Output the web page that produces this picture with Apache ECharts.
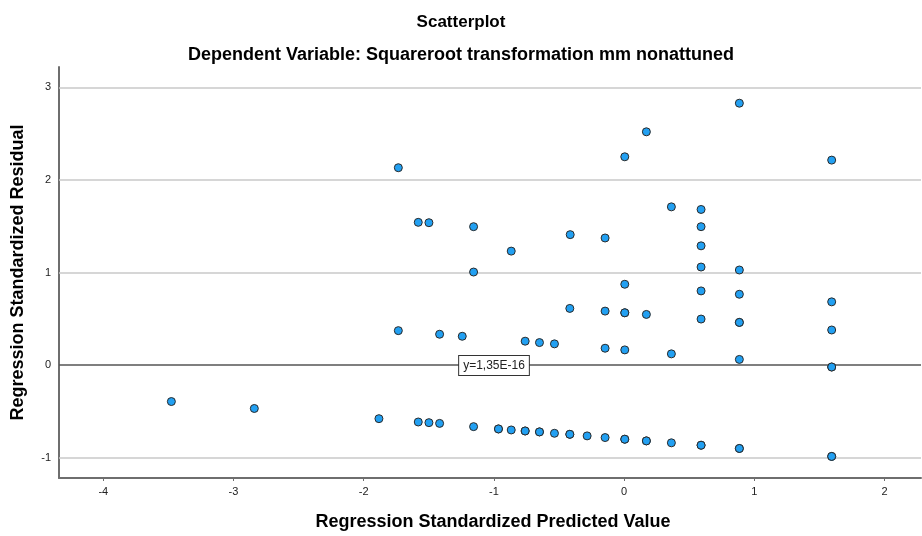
<!DOCTYPE html>
<html>
<head>
<meta charset="utf-8">
<script src="https://cdn.jsdelivr.net/npm/echarts@6/dist/echarts.min.js"></script>
<style>html,body{margin:0;padding:0;background:#fff}#c{width:922px;height:536px}</style>
</head>
<body>
<div id="c"></div>
<script>
// Data
const xValues = [
  -1.734,-1.581,-1.499,-1.156,-0.867,-0.414,-0.146,-1.156,0.005,0.171,
  0.885,1.594,0.363,0.591,0.591,0.591,0.591,0.885,0.005,0.591,
  0.885,1.594,0.005,0.171,0.591,0.885,1.594,0.005,0.363,0.885,
  1.594,-1.734,-1.417,-1.243,-0.760,-0.650,-0.535,-0.417,-0.146,-0.146,
  -3.477,-2.840,-1.883,-1.581,-1.499,-1.417,-1.156,-0.965,-0.867,-0.760,
  -0.650,-0.535,-0.417,-0.284,-0.146,0.005,0.171,0.363,0.591,0.885,
  1.594,
  -0.965,-0.760,-0.650,-0.417,0.171,0.005,0.885,1.594,1.594,0.591,0.885,0.005
];
const yValues = [
  2.132,1.542,1.538,1.495,1.231,1.409,1.373,1.005,2.250,2.520,
  2.829,2.214,1.709,1.681,1.495,1.288,1.059,1.027,0.873,0.801,
  0.765,0.683,0.565,0.547,0.497,0.461,0.379,0.164,0.121,0.061,
  -0.021,0.372,0.333,0.311,0.258,0.243,0.229,0.612,0.583,0.182,
  -0.394,-0.469,-0.579,-0.615,-0.622,-0.630,-0.665,-0.690,-0.701,-0.712,
  -0.722,-0.737,-0.748,-0.765,-0.783,-0.801,-0.819,-0.840,-0.866,-0.901,
  -0.987,
  -0.690,-0.712,-0.722,-0.748,-0.819,0.565,0.461,-0.021,-0.987,-0.866,-0.901,-0.801
];
const xTicks = [-4,-3,-2,-1,0,1,2];
const yTicks = [-1,0,1,2,3];
const xRange = [-4.34, 2.28];
const yRange = [-1.22, 3.22];
const refLineY = 1.35e-16;
const refLineLabel = 'y=1,35E-16';
const titleText = 'Scatterplot';
const subtitleText = 'Dependent Variable: Squareroot transformation mm nonattuned';
const xName = 'Regression Standardized Predicted Value';
const yName = 'Regression Standardized Residual';

const points = xValues.map((x,i)=>[x,yValues[i]]);
const gridLines = yTicks.filter(v=>v!==0).map(v=>({yAxis:v}));

const chart = echarts.init(document.getElementById('c'), null, {renderer:'canvas'});
const font = 'Arial, "Liberation Sans", sans-serif';
chart.setOption({
  animation:false,
  backgroundColor:'#fff',
  title:[
    {text:titleText,left:'center',top:9,textStyle:{fontFamily:font,fontSize:17,fontWeight:'bold',color:'#000'}},
    {text:subtitleText,left:'center',top:41,textStyle:{fontFamily:font,fontSize:18,fontWeight:'bold',color:'#000'}}
  ],
  grid:{left:59,right:1,top:67,bottom:55,containLabel:false},
  xAxis:{
    type:'value',min:xRange[0],max:xRange[1],
    name:xName,nameLocation:'middle',nameGap:35,
    nameTextStyle:{fontFamily:font,fontSize:18,fontWeight:'bold',color:'#000',padding:[0,0,0,6]},
    axisLine:{show:true,onZero:false,lineStyle:{color:'#6e6e6e',width:2}},
    axisTick:{show:true,customValues:xTicks,length:3,lineStyle:{color:'#6e6e6e'}},
    axisLabel:{customValues:xTicks,fontFamily:font,fontSize:11,color:'#222',margin:8},
    splitLine:{show:false}
  },
  yAxis:{
    type:'value',min:yRange[0],max:yRange[1],
    name:yName,nameLocation:'middle',nameGap:32,
    nameTextStyle:{fontFamily:font,fontSize:18,fontWeight:'bold',color:'#000'},
    axisLine:{show:true,onZero:false,lineStyle:{color:'#6e6e6e',width:2}},
    axisTick:{show:false},
    axisLabel:{customValues:yTicks,fontFamily:font,fontSize:11,color:'#222',margin:8},
    splitLine:{show:false}
  },
  series:[
    {
      type:'scatter',
      data:points,
      symbol:'circle',
      symbolSize:8,
      itemStyle:{color:'#22a0f2',borderColor:'#2a2a2a',borderWidth:1,opacity:1},
      z:5,
      markLine:{
        silent:true,symbol:'none',animation:false,
        data:[
          ...gridLines.map(g=>Object.assign({},g,{lineStyle:{color:'#c8c8c8',width:1.5,type:'solid'},label:{show:false}})),
          {yAxis:refLineY,lineStyle:{color:'#555',width:1.5,type:'solid'},
           label:{show:true,position:'middle',formatter:refLineLabel,fontFamily:font,fontSize:12,color:'#222',
                  backgroundColor:'#fff',borderColor:'#333',borderWidth:1,padding:[4,4,3,4],distance:0,offset:[4,10]}}
        ]
      }
    }
  ]
});
</script>
</body>
</html>
